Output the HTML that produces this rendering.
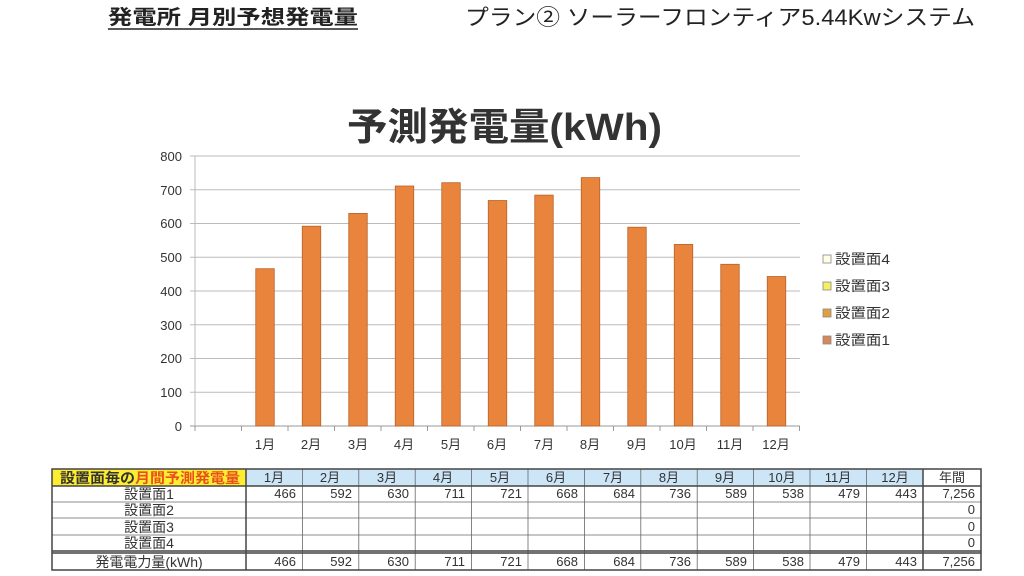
<!DOCTYPE html>
<html><head><meta charset="utf-8"><style>
html,body{margin:0;padding:0;background:#fff;}
svg{display:block;font-family:"Liberation Sans","Noto Sans CJK JP",sans-serif;}
</style></head><body>
<svg width="1024" height="576" viewBox="0 0 1024 576" xmlns="http://www.w3.org/2000/svg">
<rect width="1024" height="576" fill="#fff"/>
<text x="108" y="24" font-size="20" font-weight="bold" fill="#222" textLength="250" lengthAdjust="spacingAndGlyphs">発電所 月別予想発電量</text>
<line x1="108" y1="29" x2="358" y2="29" stroke="#222" stroke-width="1.5"/>
<text x="465" y="25" font-size="22" fill="#222" textLength="510" lengthAdjust="spacingAndGlyphs">プラン② ソーラーフロンティア5.44Kwシステム</text>
<text x="347" y="140" font-size="38" font-weight="bold" fill="#333" textLength="315" lengthAdjust="spacingAndGlyphs">予測発電量(kWh)</text>
<g stroke="#bbb" stroke-width="1">
<line x1="190" y1="156" x2="800" y2="156"/>
<line x1="190" y1="189.75" x2="800" y2="189.75"/>
<line x1="190" y1="223.5" x2="800" y2="223.5"/>
<line x1="190" y1="257.25" x2="800" y2="257.25"/>
<line x1="190" y1="291" x2="800" y2="291"/>
<line x1="190" y1="324.75" x2="800" y2="324.75"/>
<line x1="190" y1="358.5" x2="800" y2="358.5"/>
<line x1="190" y1="392.25" x2="800" y2="392.25"/>
<line x1="195" y1="156" x2="195" y2="426"/>
</g>
<line x1="190" y1="426" x2="800" y2="426" stroke="#999"/>
<g stroke="#999">
<line x1="195" y1="426" x2="195" y2="431"/><line x1="241.5" y1="426" x2="241.5" y2="431"/><line x1="288" y1="426" x2="288" y2="431"/><line x1="334.5" y1="426" x2="334.5" y2="431"/><line x1="381" y1="426" x2="381" y2="431"/><line x1="427.5" y1="426" x2="427.5" y2="431"/><line x1="474" y1="426" x2="474" y2="431"/><line x1="520.5" y1="426" x2="520.5" y2="431"/><line x1="567" y1="426" x2="567" y2="431"/><line x1="613.5" y1="426" x2="613.5" y2="431"/><line x1="660" y1="426" x2="660" y2="431"/><line x1="706.5" y1="426" x2="706.5" y2="431"/><line x1="753" y1="426" x2="753" y2="431"/><line x1="799.5" y1="426" x2="799.5" y2="431"/>
</g>
<g font-size="13" fill="#333" text-anchor="end">
<text x="182" y="161">800</text><text x="182" y="195">700</text><text x="182" y="228">600</text><text x="182" y="262">500</text><text x="182" y="296">400</text><text x="182" y="330">300</text><text x="182" y="363">200</text><text x="182" y="397">100</text><text x="182" y="431">0</text>
</g>
<g fill="#e8843c" stroke="#b8632a" stroke-width="0.8">
<rect x="255.75" y="268.7" width="18.5" height="157.3"/>
<rect x="302.25" y="226.2" width="18.5" height="199.8"/>
<rect x="348.75" y="213.4" width="18.5" height="212.6"/>
<rect x="395.25" y="186.0" width="18.5" height="240.0"/>
<rect x="441.75" y="182.7" width="18.5" height="243.3"/>
<rect x="488.25" y="200.5" width="18.5" height="225.5"/>
<rect x="534.75" y="195.1" width="18.5" height="230.9"/>
<rect x="581.25" y="177.6" width="18.5" height="248.4"/>
<rect x="627.75" y="227.2" width="18.5" height="198.8"/>
<rect x="674.25" y="244.4" width="18.5" height="181.6"/>
<rect x="720.75" y="264.3" width="18.5" height="161.7"/>
<rect x="767.25" y="276.5" width="18.5" height="149.5"/>
</g>
<g font-size="13" fill="#333" text-anchor="middle">
<text x="265" y="449">1月</text><text x="311" y="449">2月</text><text x="358" y="449">3月</text><text x="404" y="449">4月</text><text x="451" y="449">5月</text><text x="497" y="449">6月</text><text x="544" y="449">7月</text><text x="590" y="449">8月</text><text x="637" y="449">9月</text><text x="683" y="449">10月</text><text x="730" y="449">11月</text><text x="776" y="449">12月</text>
</g>
<rect x="823" y="255" width="8" height="8" fill="#fdfde8" stroke="#888" stroke-width="0.8"/>
<rect x="823" y="282" width="8" height="8" fill="#f4f060" stroke="#888" stroke-width="0.8"/>
<rect x="823" y="309" width="8" height="8" fill="#e0a040" stroke="#888" stroke-width="0.8"/>
<rect x="823" y="336" width="8" height="8" fill="#d98858" stroke="#888" stroke-width="0.8"/>
<g font-size="14" fill="#333">
<text x="835" y="264" textLength="55" lengthAdjust="spacingAndGlyphs">設置面4</text><text x="835" y="291" textLength="55" lengthAdjust="spacingAndGlyphs">設置面3</text><text x="835" y="318" textLength="55" lengthAdjust="spacingAndGlyphs">設置面2</text><text x="835" y="345" textLength="55" lengthAdjust="spacingAndGlyphs">設置面1</text>
</g>
<rect x="52" y="469" width="194" height="17" fill="#ffee30"/>
<rect x="246" y="469" width="677" height="17" fill="#cde6f7"/>
<g stroke="#666" stroke-width="0.8">
<line x1="52" y1="502" x2="981" y2="502"/>
<line x1="52" y1="518" x2="981" y2="518"/>
<line x1="52" y1="535" x2="981" y2="535"/>
<line x1="302.4" y1="469" x2="302.4" y2="570"/><line x1="358.8" y1="469" x2="358.8" y2="570"/><line x1="415.2" y1="469" x2="415.2" y2="570"/><line x1="471.6" y1="469" x2="471.6" y2="570"/><line x1="528" y1="469" x2="528" y2="570"/><line x1="584.4" y1="469" x2="584.4" y2="570"/><line x1="640.8" y1="469" x2="640.8" y2="570"/><line x1="697.2" y1="469" x2="697.2" y2="570"/><line x1="753.6" y1="469" x2="753.6" y2="570"/><line x1="810" y1="469" x2="810" y2="570"/><line x1="866.4" y1="469" x2="866.4" y2="570"/>
</g>
<g stroke="#444" stroke-width="1.5" fill="none">
<rect x="52" y="469" width="929" height="101"/>
<line x1="52" y1="486" x2="981" y2="486"/>
<line x1="52" y1="551" x2="981" y2="551"/>
<line x1="52" y1="553" x2="981" y2="553"/>
<line x1="246" y1="469" x2="246" y2="570"/>
<line x1="923" y1="469" x2="923" y2="570"/>
</g>
<text x="60" y="483" font-size="14" font-weight="bold" fill="#333" textLength="180" lengthAdjust="spacingAndGlyphs">設置面毎の<tspan fill="#e8501e">月間予測発電量</tspan></text>
<g font-size="13" fill="#333" text-anchor="middle">
<text x="274" y="482">1月</text><text x="330" y="482">2月</text><text x="387" y="482">3月</text><text x="443" y="482">4月</text><text x="500" y="482">5月</text><text x="556" y="482">6月</text><text x="613" y="482">7月</text><text x="669" y="482">8月</text><text x="725" y="482">9月</text><text x="782" y="482">10月</text><text x="838" y="482">11月</text><text x="895" y="482">12月</text><text x="952" y="482">年間</text>
</g>
<g font-size="14" fill="#333" text-anchor="middle">
<text x="149" y="499">設置面1</text><text x="149" y="515">設置面2</text><text x="149" y="532">設置面3</text><text x="149" y="548">設置面4</text><text x="149" y="567">発電電力量(kWh)</text>
</g>
<g font-size="13" fill="#333" text-anchor="end">
<text x="296" y="498">466</text><text x="352" y="498">592</text><text x="409" y="498">630</text><text x="465" y="498">711</text><text x="522" y="498">721</text><text x="578" y="498">668</text><text x="635" y="498">684</text><text x="691" y="498">736</text><text x="747" y="498">589</text><text x="804" y="498">538</text><text x="860" y="498">479</text><text x="917" y="498">443</text><text x="975" y="498">7,256</text>
<text x="975" y="514">0</text><text x="975" y="531">0</text><text x="975" y="547">0</text>
<text x="296" y="566">466</text><text x="352" y="566">592</text><text x="409" y="566">630</text><text x="465" y="566">711</text><text x="522" y="566">721</text><text x="578" y="566">668</text><text x="635" y="566">684</text><text x="691" y="566">736</text><text x="747" y="566">589</text><text x="804" y="566">538</text><text x="860" y="566">479</text><text x="917" y="566">443</text><text x="975" y="566">7,256</text>
</g>
</svg>
</body></html>
